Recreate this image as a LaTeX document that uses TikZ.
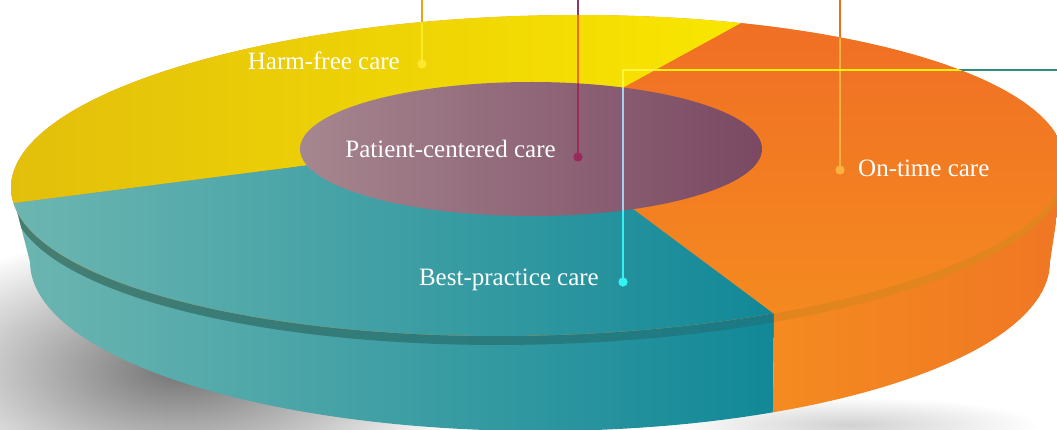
\documentclass[tikz,border=0pt]{standalone}
\usepackage{fontspec}
\setmainfont{Liberation Serif}
\definecolor{tealL}{HTML}{6DB6B1}
\definecolor{tealR}{HTML}{0F8797}
\definecolor{bandL}{HTML}{477D71}
\definecolor{bandR}{HTML}{187A86}
\definecolor{bandOr}{HTML}{E3851F}
\definecolor{orSideL}{HTML}{F48B20}
\definecolor{orSideR}{HTML}{F07624}
\definecolor{yelL}{HTML}{E2BF0B}
\definecolor{yelR}{HTML}{F9E600}
\definecolor{orTopT}{HTML}{F06E25}
\definecolor{orTopB}{HTML}{F58C1F}
\definecolor{purL}{HTML}{A6868F}
\definecolor{purR}{HTML}{7A4862}
\definecolor{hOut}{HTML}{E8A419}
\definecolor{hIn}{HTML}{FCE82E}
\definecolor{pOut}{HTML}{8B3A6B}
\definecolor{pYel}{HTML}{F26A1C}
\definecolor{pIn}{HTML}{9A2A5C}
\definecolor{oOut}{HTML}{F07020}
\definecolor{oIn}{HTML}{FBB03F}
\definecolor{bOut}{HTML}{2E8B82}
\definecolor{bYel}{HTML}{FFF53A}
\definecolor{bOr}{HTML}{FFEE12}
\definecolor{bPur}{HTML}{A2D0EF}
\definecolor{bTeal}{HTML}{33F2F2}
\newcommand\EoneEll{(0,0) ellipse [x radius=527pt, y radius=160pt]}
\newcommand\InnerEll{(531,149) ellipse [x radius=231pt, y radius=67pt]}
\newcommand\SidePath{(11,187.6) -- (30,262) -- plot[domain=180:360, samples=90] ({540+510*cos(\x)}, {262-169*sin(\x)}) -- (1065,163.4) -- cycle}
\newcommand\YelPoly{(535,136) -- (-100,217.8) -- (-100,-200) -- (1149,-200) -- cycle}
\newcommand\OrPoly{(535,136) -- (1149,-200) -- (1300,-200) -- (1300,600) -- (1158,600) -- cycle}
\newcommand\TealPoly{(535,136) -- (1158,600) -- (-100,600) -- (-100,217.8) -- cycle}
\newcommand\TealSide{(-100,-200) -- (780,-200) -- (774,313) -- (771,600) -- (-100,600) -- cycle}
\newcommand\OrSide{(780,-200) -- (1300,-200) -- (1300,600) -- (771,600) -- (774,313) -- cycle}
\begin{document}
\begin{tikzpicture}[x=1pt,y=-1pt,
  eonexf/.style={shift={(538,175.5)}, yslant=0.023},
  ebandxf/.style={shift={(538,184.5)}, yslant=0.023},
  lbl/.style={text=white, font=\fontsize{25}{30}\selectfont, inner sep=0pt},
  lead/.style={line width=2pt},
  dotn/.style={circle, inner sep=0pt, minimum size=9pt}]
\useasboundingbox (0,0) rectangle (1057,430);
\clip (0,0) rectangle (1057,430);
% shadows
\shade[inner color=black!55, outer color=white] (180,370) ellipse [x radius=300pt, y radius=140pt];
\shade[inner color=black!18, outer color=white] (850,425) ellipse [x radius=190pt, y radius=28pt];
% side of the disk
\begin{scope}
  \clip \SidePath;
  \begin{scope}\clip \TealSide;
    \shade[left color=tealL, right color=tealR] (10,150) rectangle (792,440);
  \end{scope}
  \begin{scope}\clip \OrSide;
    \shade[left color=orSideL, right color=orSideR] (770,150) rectangle (1070,440);
  \end{scope}
  % lip band
  \begin{scope}
    \clip[ebandxf] \EoneEll;
    \begin{scope}\clip \TealSide;
      \shade[left color=bandL, right color=bandR] (10,150) rectangle (792,350);
    \end{scope}
    \begin{scope}\clip \OrSide;
      \fill[bandOr] (770,150) rectangle (1070,350);
    \end{scope}
  \end{scope}
\end{scope}
% top face
\begin{scope}
  \clip[eonexf] \EoneEll;
  \fill[orTopB] (0,0) rectangle (1100,400);
  \begin{scope}\clip \YelPoly;
    \shade[left color=yelL, right color=yelR] (10,10) rectangle (740,215);
  \end{scope}
  \begin{scope}\clip \OrPoly;
    \shade[top color=orTopT, bottom color=orTopB] (530,12) rectangle (1070,340);
  \end{scope}
  \begin{scope}\clip \TealPoly;
    \shade[left color=tealL, right color=tealR] (10,130) rectangle (792,340);
  \end{scope}
\end{scope}
% inner ellipse
\shade[left color=purL, right color=purR] \InnerEll;
% labels
\node[lbl, anchor=base east] (tHarm) at (400,70) {Harm-free care};
\node[lbl, anchor=base] (tPat) at (450.5,158) {Patient-centered care};
\node[lbl, anchor=base west] (tOn) at (858,177) {On-time care};
\node[lbl, anchor=base east] (tBest) at (599,286) {Best-practice care};
% dots and leaders
\node[dotn, fill=hIn] (hDot) at (422,64) {};
\node[dotn, fill=pIn] (pDot) at (578,157) {};
\node[dotn, fill=oIn] (oDot) at (840,170) {};
\node[dotn, fill=bTeal] (bDot) at (623,282) {};
\coordinate (hTop) at (422,-2);
\coordinate (pTop) at (578,-2);
\coordinate (oTop) at (840,-2);
\coordinate (bCorner) at (623,70);
\coordinate (bEnd) at (1062,70);
% harm-free leader
\draw[lead, draw=hOut] (hTop) -- (hDot.center);
\begin{scope}\clip[eonexf] \EoneEll;
  \draw[lead, draw=hIn] (hTop) -- (hDot.center);
\end{scope}
% patient-centered leader
\draw[lead, draw=pOut] (pTop) -- (pDot.center);
\begin{scope}\clip[eonexf] \EoneEll;
  \draw[lead, draw=pYel] (pTop) -- (pDot.center);
\end{scope}
\begin{scope}\clip \InnerEll;
  \draw[lead, draw=pIn] (pTop) -- (pDot.center);
\end{scope}
% on-time leader
\draw[lead, draw=oOut] (oTop) -- (oDot.center);
\begin{scope}\clip[eonexf] \EoneEll;
  \draw[lead, draw=oIn] (oTop) -- (oDot.center);
\end{scope}
% best-practice leader
\draw[lead, draw=bOut] (bDot.center) -- (bCorner) -- (bEnd);
\begin{scope}\clip[eonexf] \EoneEll;
  \begin{scope}\clip \YelPoly;
    \draw[lead, draw=bYel] (bDot.center) -- (bCorner) -- (bEnd);
  \end{scope}
  \begin{scope}\clip \OrPoly;
    \draw[lead, draw=bOr] (bDot.center) -- (bCorner) -- (bEnd);
  \end{scope}
  \begin{scope}\clip \TealPoly;
    \draw[lead, draw=bTeal] (bDot.center) -- (bCorner) -- (bEnd);
  \end{scope}
\end{scope}
\begin{scope}\clip \InnerEll;
  \draw[lead, draw=bPur] (bDot.center) -- (bCorner) -- (bEnd);
\end{scope}
\node[dotn, fill=hIn] at (hDot) {};
\node[dotn, fill=pIn] at (pDot) {};
\node[dotn, fill=oIn] at (oDot) {};
\node[dotn, fill=bTeal] at (bDot) {};
\end{tikzpicture}
\end{document}
